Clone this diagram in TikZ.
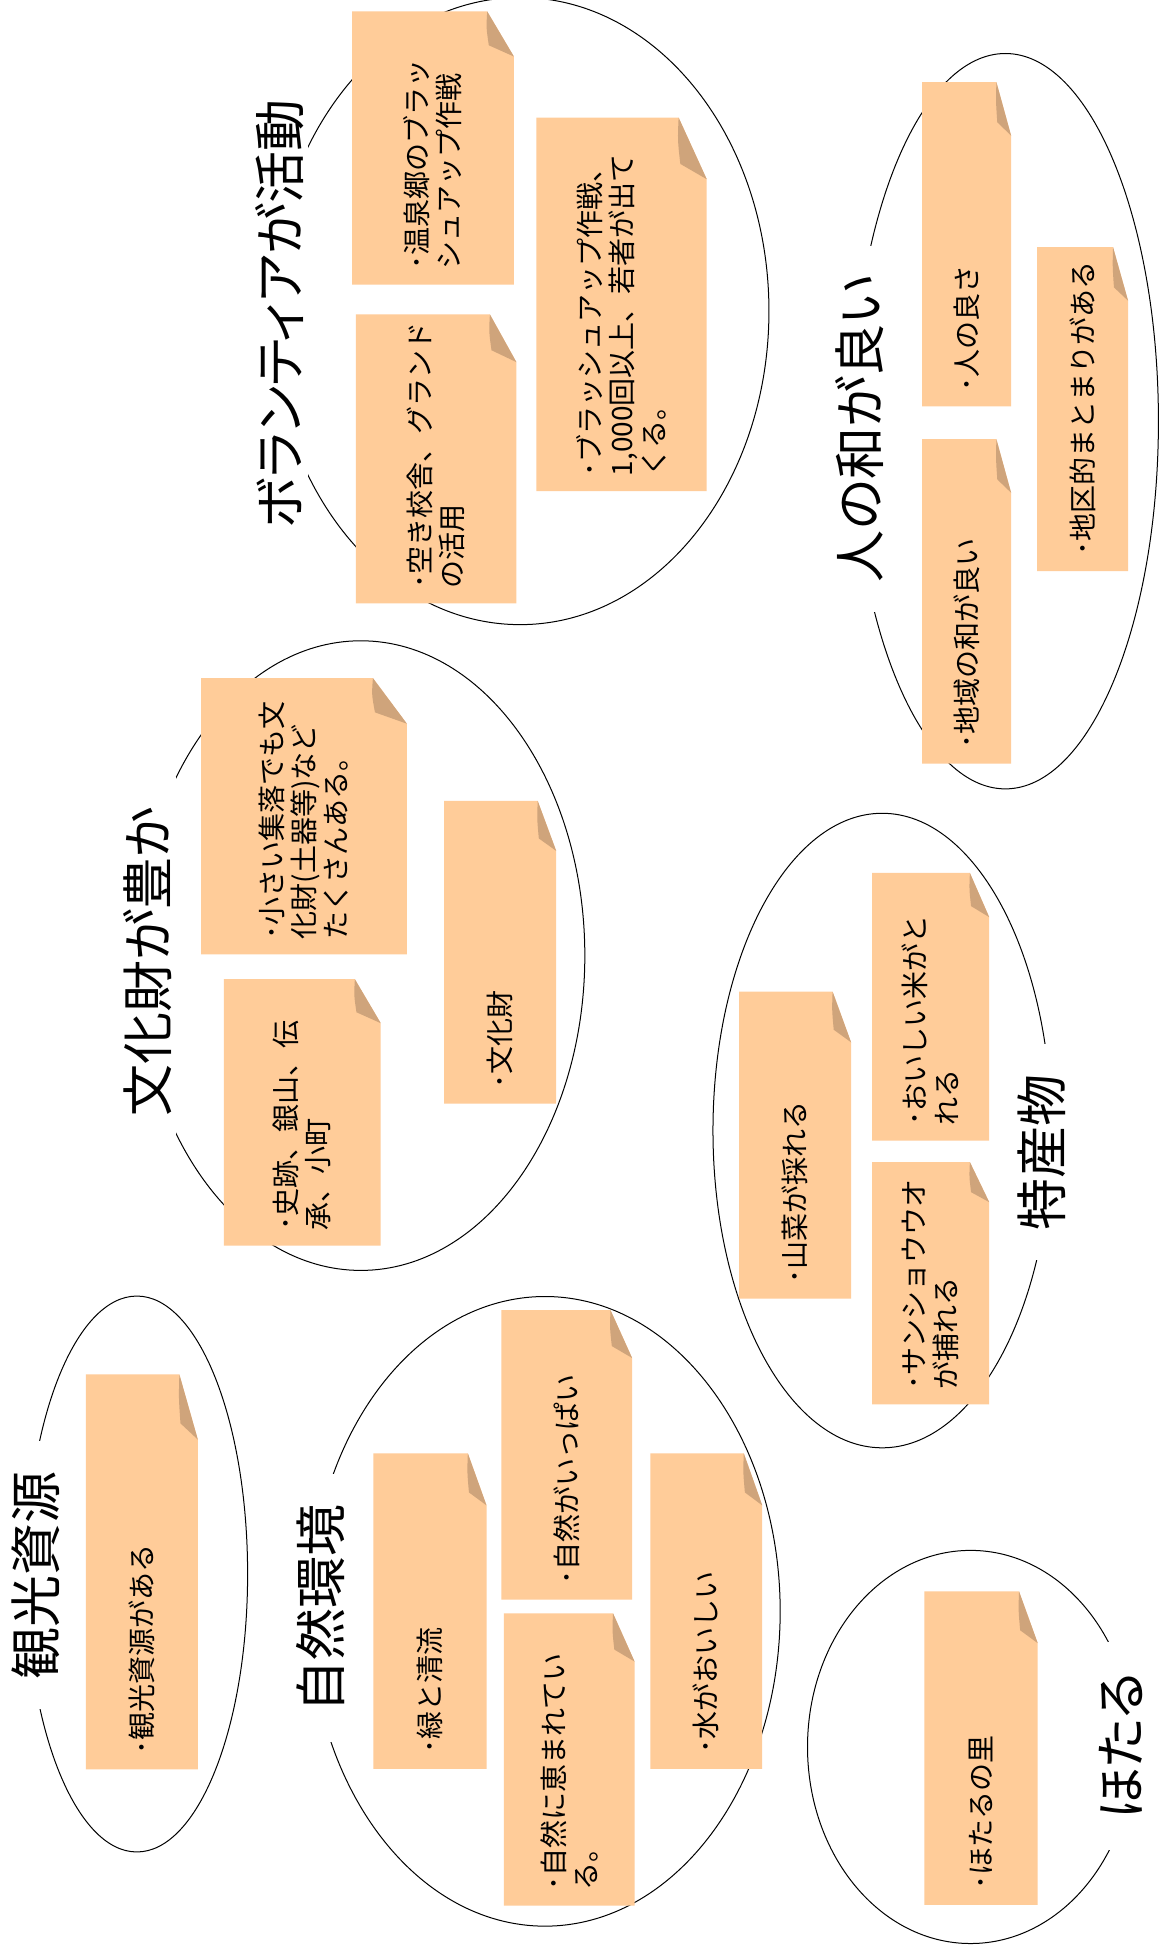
\documentclass[tikz,border=0pt]{standalone}
\usepackage{fontspec}
\newfontfamily\jp{Noto Sans CJK JP}
\newfontfamily\jpt[RawFeature=+palt]{Noto Sans CJK JP}
\usetikzlibrary{shapes.geometric}
\definecolor{notefill}{HTML}{FFCC99}
\definecolor{foldfill}{HTML}{CFA47B}
\tikzset{
  notetext/.style={rotate=90, anchor=west, align=left, inner sep=0pt,
    font=\jp\fontsize{28}{32}\selectfont},
  titletext/.style={rotate=90, fill=white, inner xsep=30pt, inner ysep=4pt,
    font=\jpt\fontsize{52}{60}\selectfont},
  groupellipse/.style={draw, ellipse, line width=1pt, inner sep=0pt},
}
\newcommand\stickynote[6]{%
  \pgfmathsetmacro\nAx{#4-0.165*(#4-#2)}%
  \pgfmathsetmacro\nBy{#3+0.165*(#5-#3)}%
  \pgfmathsetmacro\nCx{\nAx+0.01*(#4-#2)}%
  \pgfmathsetmacro\nCy{#3+0.124*(#5-#3)}%
  \pgfmathsetmacro\nDx{\nAx-0.006*(#4-#2)}%
  \pgfmathsetmacro\nDy{#3+0.06*(#5-#3)}%
  \pgfmathsetmacro\nTx{(#2+#4)/2}%
  \pgfmathsetmacro\nTy{#5-12}%
  \fill[notefill] (#2,#3) -- (\nAx,#3) -- (#4,\nBy) -- (#4,#5) -- (#2,#5) -- cycle;
  \fill[foldfill] (\nAx,#3) .. controls (\nDx,\nDy) .. (\nCx,\nCy) -- (#4,\nBy) -- cycle;
  \node[notetext] (#1) at (\nTx,\nTy) {#6};
}
\begin{document}
\begin{tikzpicture}[x=1.2438pt, y=-1.2438pt]
\useasboundingbox[fill=white] (0,0) rectangle (931,1568);

% group ellipses
\node[groupellipse, minimum width=221.4pt, minimum height=555.7pt] (e1) at (110,1265) {};
\node[groupellipse, minimum width=470.2pt, minimum height=629.4pt] (e2) at (438,1295) {};
\node[groupellipse, minimum width=447.8pt, minimum height=629.4pt] (e3) at (290,768) {};
\node[groupellipse, minimum width=497.5pt, minimum height=626.9pt] (e4) at (418,250) {};
\node[groupellipse, minimum width=338.3pt, minimum height=634.3pt] (e5) at (709,908.6) {};
\node[groupellipse, minimum width=306pt, minimum height=735.1pt] (e6) at (808,338.5) {};
\node[groupellipse, minimum width=325.9pt, minimum height=393pt] (e7) at (780,1404) {};

% titles
\node[titletext] (t1) at (29,1266) {観光資源};
\node[titletext] (t2) at (257.5,1292.5) {自然環境};
\node[titletext] (t3) at (119,773) {文化財が豊か};
\node[titletext] (t4) at (224.5,252) {ボランティアが活動};
\node[titletext] (t5) at (837,926) {特産物};
\node[titletext] (t6) at (691,344.7) {人の和が良い};
\node[titletext] (t7) at (901,1403.5) {ほたる};

% sticky notes
\stickynote{n1}{69}{1104.6}{159}{1422}{･観光資源がある}
\stickynote{n2}{300}{1168}{391}{1421.6}{･緑と清流}
\stickynote{n3}{403}{1053}{508}{1285.6}{･自然がいっぱい}
\stickynote{n4}{405}{1296.6}{510}{1531.6}{･自然に恵まれてい\\る。}
\stickynote{n5}{522.6}{1168}{612.6}{1421.6}{･水がおいしい}
\stickynote{n6}{161.6}{545}{327}{767}{･小さい集落でも文\\化財(土器等)など\\たくさんある。}
\stickynote{n7}{180}{787}{306}{1001}{･史跡、銀山、伝\\承、小町}
\stickynote{n8}{357}{643.7}{447}{887}{･文化財}
\stickynote{n9}{283}{9.2}{413}{228.7}{･温泉郷のブラッ\\シュアップ作戦}
\stickynote{n10}{286}{252.7}{415}{485}{･空き校舎、グランド\\の活用}
\stickynote{n11}{431}{94.5}{568}{394.8}{･ブラッシュアップ作戦、\\1,000回以上、若者が出て\\くる。}
\stickynote{n12}{594}{797}{684}{1043.6}{･山菜が採れる}
\stickynote{n13}{701}{701.6}{795}{916.6}{･おいしい米がと\\れる}
\stickynote{n14}{701}{934}{795}{1128.6}{･サンショウウオ\\が捕れる}
\stickynote{n15}{741}{66}{812.6}{326.5}{･人の良さ}
\stickynote{n16}{741}{353}{812.6}{613.7}{･地域の和が良い}
\stickynote{n17}{833.5}{198.7}{906.6}{459}{･地区的まとまりがある}
\stickynote{n18}{743}{1279}{834}{1531}{･ほたるの里}
\end{tikzpicture}
\end{document}
